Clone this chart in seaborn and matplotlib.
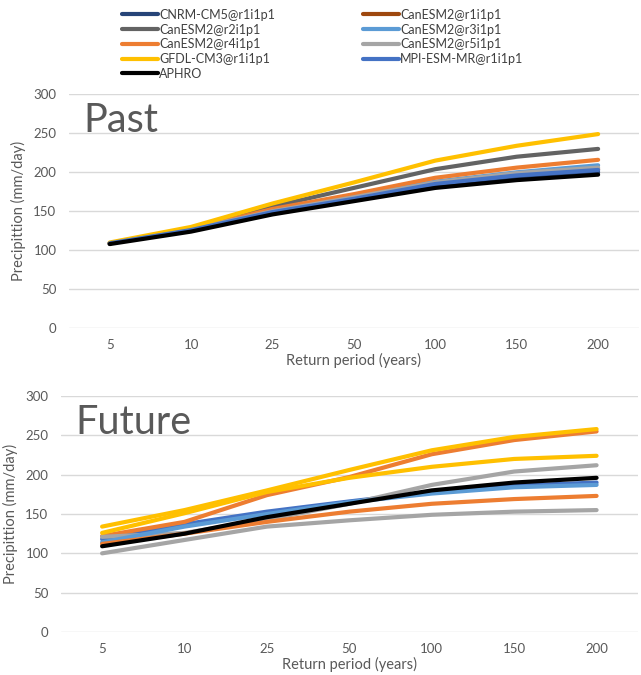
import matplotlib
matplotlib.use("Agg")
import matplotlib.pyplot as plt
import seaborn as sns
import pandas as pd

# return periods (category axis)
periods = [5, 10, 25, 50, 100, 150, 200]

# model names, in the order they are drawn
models = ["CNRM-CM5@r1i1p1", "CanESM2@r1i1p1", "CanESM2@r2i1p1", "CanESM2@r3i1p1",
          "CanESM2@r4i1p1", "CanESM2@r5i1p1", "GFDL-CM3@r1i1p1", "MPI-ESM-MR@r1i1p1",
          "APHRO"]
colors = ["#264478", "#9E480E", "#636363", "#5B9BD5",
          "#ED7D31", "#A5A5A5", "#FFC000", "#4472C4", "#000000"]

# past values (mm/day)
past_cnrm = [109, 126, 148, 165, 183, 193, 200]
past_r1 = [109, 127, 150, 167, 186, 197, 204]
past_r2 = [109, 128, 156, 180, 204, 220, 230]
past_r3 = [109, 127, 151, 169, 188, 200, 209]
past_r4 = [109, 127, 153, 172, 193, 206, 216]
past_r5 = [109, 127, 150, 168, 187, 199, 206]
past_gfdl = [110, 130, 160, 187, 215, 234, 249]
past_mpi = [109, 126, 149, 166, 185, 196, 203]
past_aphro = [108, 124, 146, 163, 180, 190, 197]

# future values (mm/day), colours as they appear in the lower panel
future_colors = ["#4472C4", "#ED7D31", "#A5A5A5", "#5B9BD5",
                 "#ED7D31", "#A5A5A5", "#FFC000", "#FFC000", "#000000"]
fut_blue = [118, 137, 153, 166, 178, 186, 190]
fut_orange_a = [122, 140, 174, 197, 226, 244, 255]
fut_gray_a = [121, 126, 143, 163, 187, 204, 212]
fut_lightblue = [114, 134, 150, 165, 176, 184, 187]
fut_orange_b = [112, 125, 140, 153, 163, 169, 173]
fut_gray_b = [100, 117, 134, 142, 149, 153, 155]
fut_gold_a = [134, 155, 180, 206, 231, 248, 258]
fut_gold_b = [126, 151, 178, 196, 210, 220, 224]
fut_aphro = [109, 125, 146, 163, 180, 190, 196]

past = [past_cnrm, past_r1, past_r2, past_r3, past_r4, past_r5, past_gfdl, past_mpi, past_aphro]
future = [fut_blue, fut_orange_a, fut_gray_a, fut_lightblue, fut_orange_b,
          fut_gray_b, fut_gold_a, fut_gold_b, fut_aphro]


def long_frame(series_list, names):
    rows = []
    for name, vals in zip(names, series_list):
        for i, v in enumerate(vals):
            rows.append({"series": name, "pos": i, "value": v})
    return pd.DataFrame(rows)


sns.set_style("white")
plt.rcParams["font.family"] = ["Lato", "DejaVu Sans"]
txt = "#595959"
lw = 3.0

fig = plt.figure(figsize=(6.41, 6.75), dpi=100)
ax1 = fig.add_axes([0.1076, 0.5136, 0.889, 0.3467])
ax2 = fig.add_axes([0.095, 0.0637, 0.9, 0.3496])

df_past = long_frame(past, models)
sns.lineplot(data=df_past, x="pos", y="value", hue="series", hue_order=models,
             palette=dict(zip(models, colors)), sort=False, linewidth=lw,
             ax=ax1, legend=False)

fut_names = [f"f{i}" for i in range(len(future))]
df_fut = long_frame(future, fut_names)
sns.lineplot(data=df_fut, x="pos", y="value", hue="series", hue_order=fut_names,
             palette=dict(zip(fut_names, future_colors)), sort=False, linewidth=lw,
             ax=ax2, legend=False)

for ax, title in [(ax1, "Past"), (ax2, "Future")]:
    ax.set_ylim(0, 300)
    ax.set_yticks(range(0, 301, 50))
    ax.set_xlim(-0.5, len(periods) - 0.5)
    ax.set_xticks(range(len(periods)))
    ax.set_xticklabels([str(p) for p in periods])
    ax.grid(axis="y", color="#D9D9D9", linewidth=1)
    ax.set_axisbelow(True)
    for s in ax.spines.values():
        s.set_visible(False)
    ax.tick_params(axis="both", length=0, labelsize=9.5, labelcolor=txt)
    ax.tick_params(axis="y", pad=9)
    ax.tick_params(axis="x", pad=8)
    ax.set_xlabel("Return period (years)", fontsize=10.5, color=txt, labelpad=1)
    ax.set_ylabel("Precipittion (mm/day)", fontsize=10.5, color=txt, labelpad=5)
    ax.text(0.025, 0.84, title, transform=ax.transAxes, fontsize=28.5,
            color=txt, va="baseline", ha="left")

# legend (row-major order in the picture)
handles = [plt.Line2D([], [], color=c, linewidth=lw) for c in colors]
order = [0, 2, 4, 6, 8, 1, 3, 5, 7]
fig.legend([handles[i] for i in order], [models[i] for i in order],
           loc="upper left", bbox_to_anchor=(0.19, 0.987), ncol=2, frameon=False,
           fontsize=9.0, labelcolor="#404040", handlelength=2.9, handletextpad=0.1,
           labelspacing=0.22, columnspacing=7.0, borderpad=0, borderaxespad=0)

fig.savefig("out.png", dpi=100)
